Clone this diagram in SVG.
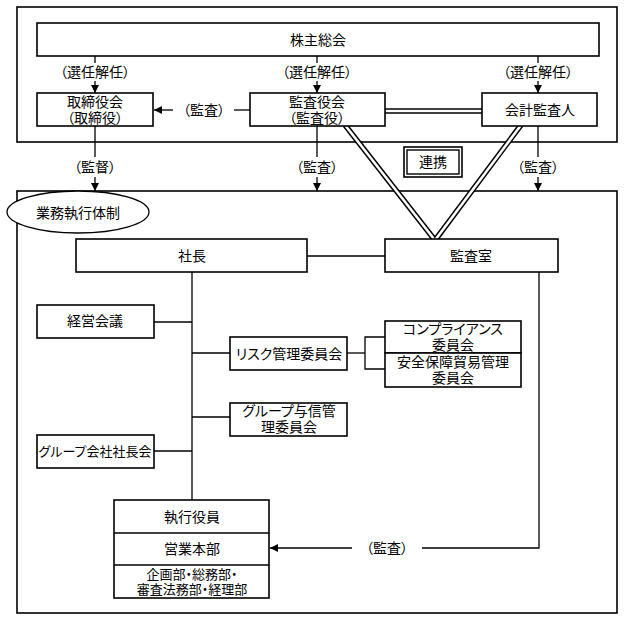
<svg xmlns="http://www.w3.org/2000/svg" width="624" height="621" viewBox="0 0 624 621">
<style>
  text { font-family: "Liberation Sans", "Noto Sans CJK JP", sans-serif; font-size: 14px; fill: #000; text-anchor: middle; dominant-baseline: central; font-feature-settings: "palt"; }
  .s13 { font-size: 13px; }
  .box { fill: #fff; stroke: #000; stroke-width: 1.6; }
  .frame { fill: none; stroke: #000; stroke-width: 1.6; }
  .ln { fill: none; stroke: #000; stroke-width: 1.3; }
  .dblo { fill: none; stroke: #000; stroke-width: 5.5; }
  .dbli { fill: none; stroke: #fff; stroke-width: 2.6; }
</style>
<defs>
  <marker id="arr" markerUnits="userSpaceOnUse" markerWidth="9" markerHeight="9" refX="8" refY="4" orient="auto">
    <path d="M0,0 L8,4 L0,8 z" fill="#000"/>
  </marker>
</defs>
<rect fill="#fff" x="0" y="0" width="624" height="621"/>

<g id="frames">
  <rect class="frame" x="17" y="7" width="600" height="135"/>
  <rect class="frame" x="17" y="191" width="600" height="422"/>
</g>

<g id="connectors">
  <path class="ln" d="M95,56 V63"/>
  <path class="ln" d="M95,81 V93" marker-end="url(#arr)"/>
  <path class="ln" d="M317,56 V63"/>
  <path class="ln" d="M317,81 V93" marker-end="url(#arr)"/>
  <path class="ln" d="M538,56 V63"/>
  <path class="ln" d="M538,81 V93" marker-end="url(#arr)"/>
  <path class="ln" d="M250,110 H234"/>
  <path class="ln" d="M173,110 H154" marker-end="url(#arr)"/>
  <path class="dblo" d="M385,111 H482"/>
  <path class="dbli" d="M384,111 H483"/>
  <path class="dblo" d="M345,125 L434,239"/>
  <path class="dbli" d="M344.2,124 L434.8,240"/>
  <path class="dblo" d="M521,125 L436,239"/>
  <path class="dbli" d="M521.8,124 L435.2,240"/>
  <path class="ln" d="M95,126 V157"/>
  <path class="ln" d="M95,177 V191" marker-end="url(#arr)"/>
  <path class="ln" d="M317,126 V157"/>
  <path class="ln" d="M317,177 V191" marker-end="url(#arr)"/>
  <path class="ln" d="M538,126 V157"/>
  <path class="ln" d="M538,177 V191" marker-end="url(#arr)"/>
  <path class="ln" d="M307,256 H385"/>
  <path class="ln" d="M192,272 V500"/>
  <path class="ln" d="M154,322 H192"/>
  <path class="ln" d="M192,353 H230"/>
  <path class="ln" d="M192,417 H230"/>
  <path class="ln" d="M154,451 H192"/>
  <path class="ln" d="M347,353 H365"/>
  <path class="ln" d="M385,337 H365 V369 H385"/>
  <path class="ln" d="M539,272 V548 H422"/>
  <path class="ln" d="M352,548 H270" marker-end="url(#arr)"/>
</g>

<g id="n-kabunushi">
  <rect class="box" x="37" y="23" width="562" height="33"/>
  <text x="318" y="40">株主総会</text>
</g>
<g id="labels">
  <text x="95" y="72">（選任解任）</text>
  <text x="317" y="72">（選任解任）</text>
  <text x="538" y="72">（選任解任）</text>
  <text x="204" y="110">（監査）</text>
  <text x="95" y="167">（監督）</text>
  <text x="317" y="167">（監査）</text>
  <text x="538" y="167">（監査）</text>
  <text x="387" y="548">（監査）</text>
</g>
<g id="n-torishimariyaku">
  <rect class="box" x="37" y="93" width="116" height="33"/>
  <text x="95" y="102">取締役会</text>
  <text x="95" y="118">（取締役）</text>
</g>
<g id="n-kansayaku">
  <rect class="box" x="250" y="93" width="135" height="33"/>
  <text x="317" y="102">監査役会</text>
  <text x="317" y="118">（監査役）</text>
</g>
<g id="n-kaikei">
  <rect class="box" x="482" y="93" width="115" height="33"/>
  <text x="540" y="110">会計監査人</text>
</g>
<g id="n-renkei">
  <rect class="box" x="404" y="147" width="58" height="30"/>
  <rect x="407" y="150" width="52" height="24" fill="none" stroke="#000" stroke-width="1.4"/>
  <text x="433" y="162">連携</text>
</g>
<g id="n-gyomu">
  <ellipse cx="78" cy="212" rx="71" ry="21" fill="#fff" stroke="#000" stroke-width="1.3"/>
  <text x="78" y="213">業務執行体制</text>
</g>
<g id="n-shacho">
  <rect class="box" x="76" y="239" width="231" height="33"/>
  <text x="192" y="256">社長</text>
</g>
<g id="n-kansashitsu">
  <rect class="box" x="385" y="239" width="173" height="33"/>
  <text x="471" y="256">監査室</text>
</g>
<g id="n-keiei">
  <rect class="box" x="37" y="305" width="117" height="33"/>
  <text x="95" y="321">経営会議</text>
</g>
<g id="n-risk">
  <rect class="box" x="230" y="337" width="117" height="33"/>
  <text x="289" y="354">リスク管理委員会</text>
</g>
<g id="n-compliance">
  <rect class="box" x="385" y="321" width="136" height="32"/>
  <text x="453" y="329">コンプライアンス</text>
  <text x="453" y="345">委員会</text>
</g>
<g id="n-anzen">
  <rect class="box" x="385" y="353" width="136" height="34"/>
  <text x="453" y="362">安全保障貿易管理</text>
  <text x="453" y="378">委員会</text>
</g>
<g id="n-yoshin">
  <rect class="box" x="230" y="403" width="117" height="33"/>
  <text x="289" y="411">グループ与信管</text>
  <text x="289" y="427">理委員会</text>
</g>
<g id="n-groupshacho">
  <rect class="box" x="37" y="435" width="117" height="33"/>
  <text class="s13" x="95" y="451">グループ会社社長会</text>
</g>
<g id="n-shikko">
  <rect class="box" x="114" y="500" width="155" height="98"/>
  <path class="ln" d="M114,533 H269 M114,565 H269" stroke-width="1.6"/>
  <text x="192" y="517">執行役員</text>
  <text x="192" y="549">営業本部</text>
  <text class="s13" x="192" y="574">企画部・総務部・</text>
  <text class="s13" x="192" y="589">審査法務部・経理部</text>
</g>
</svg>
